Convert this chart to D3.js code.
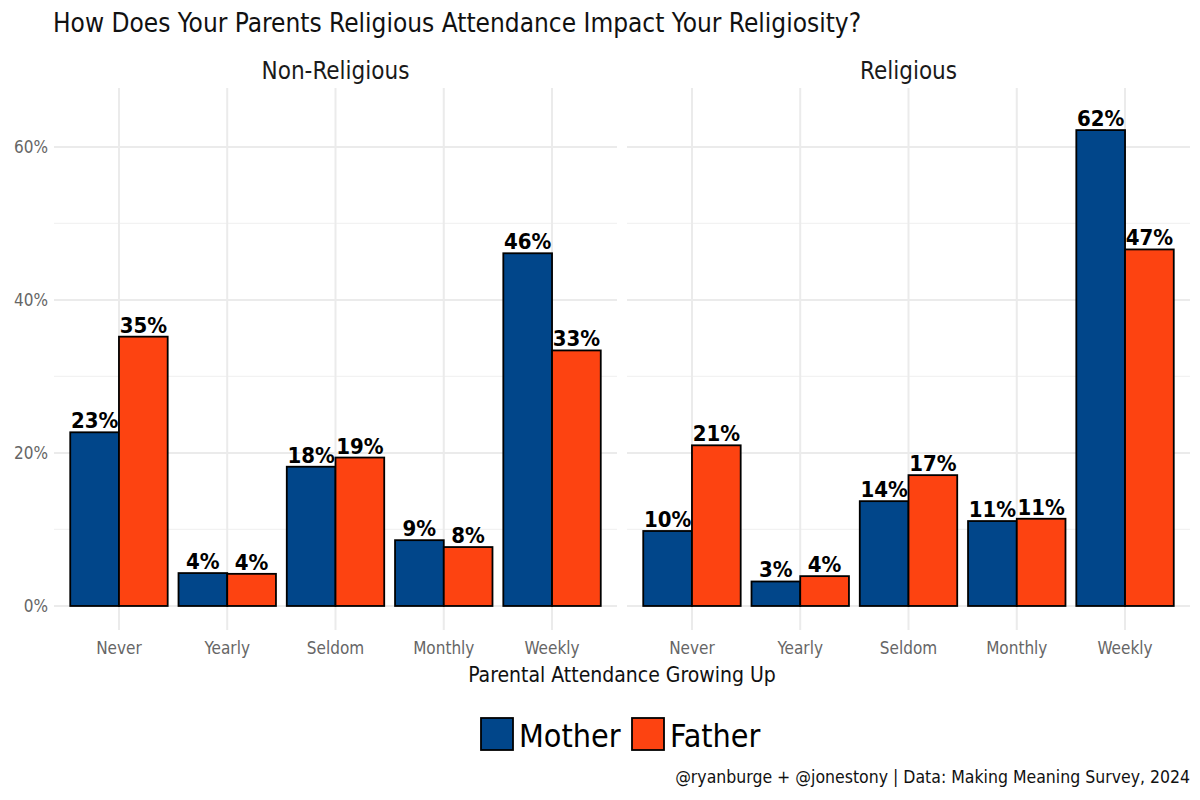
<!DOCTYPE html>
<html>
<head>
<meta charset="utf-8">
<script src="https://cdn.jsdelivr.net/npm/d3@7"></script>
<style>
    body { margin: 0; background: #fff; }
    svg { font-family: "Liberation Sans Narrow", "DejaVu Sans Condensed", "Roboto", sans-serif; font-stretch: condensed; }
</style>
</head>
<body>
<svg id="chart" width="1200" height="800"></svg>
<script>
'use strict'

const panels = ['Non-Religious', 'Religious']
const categories = ['Never', 'Yearly', 'Seldom', 'Monthly', 'Weekly']
const parents = ['Mother', 'Father']
const colors = ['#01468a', '#fd4311']

// percent values
const nonRelMother = [22.7, 4.3, 18.2, 8.6, 46.1]
const nonRelFather = [35.2, 4.2, 19.4, 7.7, 33.4]
const relMother = [9.8, 3.2, 13.7, 11.1, 62.2]
const relFather = [21.0, 3.9, 17.1, 11.4, 46.6]

const yTicks = [0, 20, 40, 60]
const yMinor = [10, 30, 50]

const series = [
    [nonRelMother, nonRelFather],
    [relMother, relFather]
]

const svg = d3.select('#chart')

const panelX = [[54, 617], [627, 1190]]
const panelTop = 88
const panelBottom = 630

const y = d3.scaleLinear()
    .domain([-3.14, 67.7])
    .range([panelBottom, panelTop])

const color = d3.scaleOrdinal().domain(parents).range(colors)

// title
svg.append('text')
    .attr('x', 53)
    .attr('y', 32)
    .attr('font-size', 26)
    .attr('fill', '#111')
    .text('How Does Your Parents Religious Attendance Impact Your Religiosity?')

panels.forEach((name, pi) => {
    const [x0, x1] = panelX[pi]
    // ggplot style discrete axis: 0.6 step of expansion on each side
    const x = d3.scalePoint()
        .domain(categories)
        .range([x0, x1])
        .padding(0.6)
    const bw = x.step() * 0.9
    const sub = d3.scaleBand().domain(parents).range([-bw / 2, bw / 2])

    const g = svg.append('g')

    g.selectAll('.minor')
        .data(yMinor)
        .join('line')
        .attr('x1', x0).attr('x2', x1)
        .attr('y1', d => y(d)).attr('y2', d => y(d))
        .attr('stroke', '#f2f2f2')
        .attr('stroke-width', 1.2)

    g.selectAll('.major')
        .data(yTicks)
        .join('line')
        .attr('x1', x0).attr('x2', x1)
        .attr('y1', d => y(d)).attr('y2', d => y(d))
        .attr('stroke', '#ebebeb')
        .attr('stroke-width', 2)

    g.selectAll('.vgrid')
        .data(categories)
        .join('line')
        .attr('x1', d => x(d)).attr('x2', d => x(d))
        .attr('y1', panelTop).attr('y2', panelBottom)
        .attr('stroke', '#ebebeb')
        .attr('stroke-width', 2)

    // strip label
    svg.append('text')
        .attr('x', (x0 + x1) / 2)
        .attr('y', 79)
        .attr('text-anchor', 'middle')
        .attr('font-size', 24)
        .attr('fill', '#1a1a1a')
        .text(name)

    const rows = []
    categories.forEach((c, ci) => {
        parents.forEach((p, k) => {
            rows.push({ cat: c, parent: p, value: series[pi][k][ci] })
        })
    })

    g.selectAll('rect')
        .data(rows)
        .join('rect')
        .attr('x', d => x(d.cat) + sub(d.parent))
        .attr('width', sub.bandwidth())
        .attr('y', d => y(d.value))
        .attr('height', d => y(0) - y(d.value))
        .attr('fill', d => color(d.parent))
        .attr('stroke', '#000')
        .attr('stroke-width', 1.8)

    g.selectAll('.lab')
        .data(rows)
        .join('text')
        .attr('x', d => x(d.cat) + sub(d.parent) + sub.bandwidth() / 2)
        .attr('y', d => y(d.value) - 4)
        .attr('text-anchor', 'middle')
        .attr('font-size', 22)
        .attr('font-weight', 'bold')
        .attr('fill', '#000')
        .text(d => Math.round(d.value) + '%')

    g.selectAll('.xt')
        .data(categories)
        .join('text')
        .attr('x', d => x(d))
        .attr('y', 654)
        .attr('text-anchor', 'middle')
        .attr('font-size', 17)
        .attr('fill', '#666')
        .text(d => d)

    if (pi === 0) {
        g.selectAll('.yt')
            .data(yTicks)
            .join('text')
            .attr('x', 48)
            .attr('y', d => y(d))
            .attr('dy', '0.35em')
            .attr('text-anchor', 'end')
            .attr('font-size', 17)
            .attr('fill', '#666')
            .text(d => d + '%')
    }
})

// axis title
svg.append('text')
    .attr('x', 622)
    .attr('y', 682)
    .attr('text-anchor', 'middle')
    .attr('font-size', 21)
    .attr('fill', '#111')
    .text('Parental Attendance Growing Up')

// legend
const legendX = [481, 632]
const legend = svg.append('g')
parents.forEach((p, i) => {
    legend.append('rect')
        .attr('x', legendX[i])
        .attr('y', 718)
        .attr('width', 32)
        .attr('height', 32)
        .attr('fill', color(p))
        .attr('stroke', '#000')
        .attr('stroke-width', 1.8)
    legend.append('text')
        .attr('x', legendX[i] + 38)
        .attr('y', 747)
        .attr('font-size', 32)
        .attr('fill', '#000')
        .text(p)
})

// caption
svg.append('text')
    .attr('x', 1190)
    .attr('y', 783)
    .attr('text-anchor', 'end')
    .attr('font-size', 17.5)
    .attr('fill', '#111')
    .text('@ryanburge + @jonestony | Data: Making Meaning Survey, 2024')
</script>
</body>
</html>
